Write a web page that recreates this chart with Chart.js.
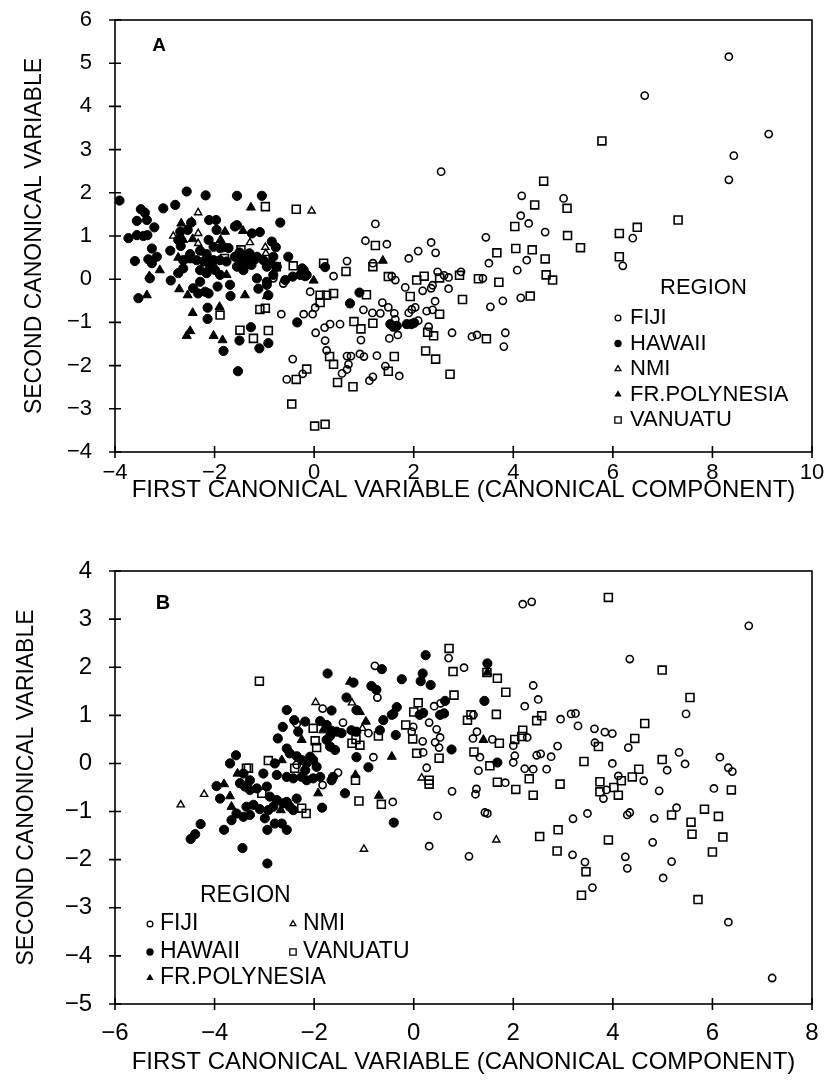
<!DOCTYPE html>
<html>
<head>
<meta charset="utf-8">
<script src="https://cdn.jsdelivr.net/npm/chart.js@4.4.0/dist/chart.umd.min.js"></script>
<style>
  body { margin: 0; background: #fff; width: 829px; height: 1083px; position: relative; overflow: hidden; }
  canvas { position: absolute; left: 0; }
  #chartA { top: 0; }
  #chartB { top: 545px; }
</style>
</head>
<body>
<canvas id="chartA" width="829" height="505"></canvas>
<canvas id="chartB" width="829" height="532"></canvas>
<script>
// ---- tick values ----
const xTicksA = [-4, -2, 0, 2, 4, 6, 8, 10];
const yTicksA = [-4, -3, -2, -1, 0, 1, 2, 3, 4, 5, 6];
const xTicksB = [-6, -4, -2, 0, 2, 4, 6, 8];
const yTicksB = [-5, -4, -3, -2, -1, 0, 1, 2, 3, 4];

const regions = ['FIJI', 'HAWAII', 'NMI', 'FR.POLYNESIA', 'VANUATU'];

// ---- panel A (first vs second canonical variable) ----
const fijiA = [[2.55,2.49],[4.17,1.93],[5.01,1.87],[4.15,1.47],[4.31,1.29],[4.64,1.09],[3.45,0.97],[4.27,0.44],[3.51,0.37],[4.08,0.21],[3.39,0.02],[2.95,0.17],[2.70,0.04],[2.61,0.09],[2.48,0.17],[1.90,0.48],[2.09,0.65],[2.35,0.85],[2.44,0.61],[1.23,1.28],[1.03,0.89],[1.46,0.81],[0.66,0.42],[0.39,0.07],[1.18,0.37],[1.56,0.07],[1.63,-0.02],[1.83,-0.19],[2.18,-0.27],[2.35,-0.21],[2.38,-0.14],[2.70,-0.22],[2.43,-0.51],[2.26,-0.74],[2.38,-0.71],[1.90,-0.78],[1.96,-0.70],[2.03,-0.65],[2.09,-0.96],[2.30,-1.10],[2.77,-1.24],[3.17,-1.33],[3.27,-1.29],[3.84,-1.24],[3.81,-1.56],[1.51,-1.37],[1.68,-1.29],[1.26,-1.77],[1.43,-2.01],[1.71,-2.24],[1.11,-2.35],[1.18,-2.26],[0.94,-1.41],[0.99,-0.71],[1.17,-0.78],[1.33,-0.79],[1.37,-0.54],[1.49,-0.65],[1.61,-0.79],[1.63,-0.93],[0.52,-1.04],[0.32,-1.04],[0.21,-1.12],[0.03,-1.24],[0.22,-1.42],[0.25,-1.65],[0.66,-1.78],[0.74,-1.78],[0.69,-1.97],[0.66,-2.09],[0.56,-2.18],[0.92,-1.73],[1.00,-1.79],[-0.08,-0.29],[0.02,-0.66],[-0.03,-0.81],[-0.21,-0.81],[-0.23,-2.19],[-0.43,-1.85],[-0.55,-2.32],[-0.66,-0.81],[-0.62,-0.10],[-0.82,0.02],[3.54,-0.64],[3.79,-0.50],[4.15,-0.43],[8.33,5.15],[6.64,4.25],[9.13,3.36],[8.43,2.86],[8.33,2.30],[6.40,0.95],[6.20,0.31]];

const hawaiiA = [[-3.91,1.82],[-2.56,2.03],[-2.18,1.94],[-1.55,1.93],[-1.05,1.93],[-3.03,1.64],[-2.79,1.72],[-3.48,1.62],[-3.40,1.54],[-3.56,1.35],[-3.36,1.37],[-3.21,1.20],[-3.73,0.95],[-3.56,1.02],[-3.43,1.00],[-3.35,1.02],[-3.60,0.42],[-3.26,0.71],[-3.33,0.46],[-3.16,0.52],[-3.26,0.37],[-2.89,0.66],[-3.30,0.02],[-3.53,-0.44],[-2.88,-0.03],[-2.73,0.14],[-2.63,0.25],[-2.43,-0.21],[-2.33,-0.33],[-2.19,-0.29],[-2.12,-0.33],[-2.29,-0.06],[-1.94,-0.17],[-1.68,-0.39],[-1.12,-0.22],[-0.95,-0.13],[-0.92,-0.37],[-2.14,-0.66],[-2.14,-0.92],[-0.34,-1.00],[-0.68,1.31],[-1.59,1.22],[-1.25,1.06],[-1.09,1.09],[-0.85,0.87],[-0.77,0.74],[-0.52,0.52],[-0.24,0.25],[-0.15,0.10],[-0.43,0.06],[-1.97,1.37],[-1.96,1.14],[-2.11,1.37],[-2.47,1.31],[-2.54,1.14],[-2.69,1.10],[-2.73,0.91],[-2.68,0.77],[-2.12,0.91],[-2.02,0.75],[-1.82,0.74],[-2.29,0.66],[-2.16,0.58],[-2.09,0.44],[-2.22,0.41],[-2.36,0.44],[-2.49,0.58],[-2.63,0.44],[-1.89,0.72],[-1.72,0.72],[-1.59,0.52],[-1.49,0.44],[-1.35,0.37],[-1.55,0.29],[-1.42,0.21],[-1.29,0.44],[-1.15,0.52],[-1.76,0.41],[-1.89,0.44],[-2.02,0.44],[-2.09,0.29],[-1.99,0.21],[-2.16,0.14],[-2.29,0.21],[-1.89,0.10],[-1.69,-0.13],[-1.02,0.44],[-0.95,0.29],[-0.88,0.37],[-0.82,0.52],[-0.75,0.29],[-1.15,0.02],[-0.95,-0.06],[-0.82,0.10],[-0.58,-0.02],[-0.28,0.10],[-1.55,1.25],[-1.45,0.56],[-1.36,0.50],[-1.26,0.33],[-1.40,0.30],[-1.30,0.60],[-1.50,0.62],[-1.20,0.45],[-1.27,-1.11],[-1.50,-1.42],[-1.10,-1.60],[-0.92,-1.48],[-1.82,-1.66],[-1.53,-2.13],[-0.21,0.21],[-0.18,0.07],[0.22,0.28],[0.91,-0.31],[0.72,-0.56],[1.53,-1.04],[1.59,-1.10],[1.66,-1.08],[1.86,-1.04],[1.95,-1.04],[2.01,-1.01]];

const nmiA = [[-0.05,1.58],[-2.33,1.54],[-1.29,0.85],[-0.98,0.74],[-2.83,1.00],[-2.33,0.83],[-1.99,0.28],[-0.97,0.60],[-2.33,1.06]];

const frPolyA = [[-2.02,-1.31],[-1.84,-1.41],[-2.56,-1.31],[-2.49,-1.20],[-2.44,-0.78],[-1.90,-0.64],[-3.36,-0.37],[-3.10,0.21],[-3.31,0.07],[-2.71,-0.23],[-2.54,-0.37],[-1.39,-0.37],[-0.95,-0.39],[-1.27,1.66],[-1.43,1.12],[-0.01,-0.03],[1.38,0.43],[-1.79,1.10],[-2.67,1.29],[-2.44,0.93],[-1.88,0.91],[-2.73,0.50],[-2.55,0.52],[-2.46,0.44],[-1.76,0.10],[-2.46,1.33],[-2.63,0.91]];

const vanuatuA = [[4.61,2.27],[5.08,1.64],[4.43,1.72],[4.03,1.22],[5.09,1.01],[5.35,0.73],[3.67,0.61],[4.05,0.71],[4.38,0.68],[4.64,0.47],[4.66,0.10],[4.79,-0.02],[3.71,-0.07],[3.30,0.01],[2.92,0.09],[2.52,0.03],[2.21,0.07],[2.06,-0.02],[1.23,0.78],[0.64,0.18],[0.19,0.37],[1.18,0.29],[1.49,0.06],[1.93,-0.40],[2.98,-0.47],[2.52,-0.81],[2.28,-1.23],[2.40,-1.31],[3.46,-1.38],[2.24,-1.66],[2.44,-1.85],[2.73,-2.20],[1.61,-1.79],[1.49,-2.13],[1.18,-1.02],[0.94,-1.15],[0.80,-0.98],[1.05,-0.36],[0.31,-1.79],[0.39,-1.97],[0.47,-2.39],[0.78,-2.49],[0.12,-0.37],[0.25,-0.37],[0.39,-0.33],[0.12,-0.54],[-0.15,-2.08],[0.01,-3.40],[0.22,-3.36],[-0.36,-2.32],[-0.45,-2.89],[-1.09,-0.70],[-0.98,-0.67],[-1.89,-0.83],[-1.49,-1.18],[-1.22,-1.37],[-0.92,-1.19],[-0.98,1.68],[-0.36,1.62],[-0.42,0.31],[-1.47,0.68],[-1.80,0.48],[-0.76,0.29],[5.78,3.20],[7.31,1.37],[6.13,1.06],[6.49,1.20],[6.13,0.52],[4.34,-0.39]];

// ---- panel B ----
const fijiB = [[2.19,3.31],[2.37,3.36],[6.73,2.86],[4.34,2.17],[5.47,1.03],[0.70,2.19],[1.01,1.99],[2.40,1.62],[2.50,1.33],[2.23,1.19],[2.95,0.92],[3.16,1.03],[3.25,1.04],[3.30,0.78],[3.63,0.72],[3.84,0.65],[3.99,0.62],[4.31,0.33],[3.64,0.43],[2.89,0.36],[2.76,0.14],[2.67,-0.12],[2.47,0.17],[2.55,0.20],[3.99,0.00],[4.11,-0.26],[4.62,-0.36],[3.81,-0.73],[3.87,-0.55],[4.93,-0.57],[5.09,-0.14],[5.33,0.23],[5.45,-0.01],[6.15,0.13],[6.32,-0.09],[6.40,-0.17],[6.03,-0.52],[5.28,-0.92],[4.83,-1.14],[4.34,-1.02],[4.29,-1.07],[4.80,-1.64],[5.18,-2.04],[5.01,-2.38],[6.32,-3.30],[7.20,-4.46],[4.25,-1.94],[4.29,-2.18],[3.44,-2.05],[3.59,-2.58],[3.19,-1.90],[3.49,-1.04],[3.20,-1.15],[2.23,-0.11],[2.40,-0.12],[1.84,-0.40],[2.00,0.37],[2.03,0.16],[2.00,0.02],[2.28,0.54],[1.58,0.50],[1.19,0.52],[1.27,0.66],[1.33,0.13],[1.30,-0.15],[1.26,-0.53],[1.24,-0.64],[1.43,-1.02],[1.48,-1.04],[1.11,-1.93],[0.31,-1.72],[0.48,-1.09],[0.77,-0.58],[0.26,-0.09],[0.19,0.23],[0.18,0.46],[0.43,0.44],[0.53,0.54],[0.51,0.33],[0.46,0.71],[-0.01,0.76],[-0.04,0.66],[-0.42,-0.80],[0.31,0.85],[0.41,1.19],[0.54,1.25],[1.20,1.01],[-0.78,2.03],[-0.73,1.37],[-1.83,1.14],[-2.35,0.82],[-1.42,0.85],[-0.91,0.63],[-0.81,0.13],[-2.35,-0.03],[-1.52,-0.19],[-1.83,-0.45]];

const hawaiiB = [[0.24,2.25],[1.48,2.08],[-0.24,1.75],[0.18,1.87],[0.14,1.71],[0.34,1.63],[0.76,0.29],[1.68,0.02],[-0.36,0.59],[-0.40,-1.23],[0.19,1.05],[0.12,1.01],[0.53,1.01],[0.61,1.04],[0.63,1.30],[-0.34,1.17],[-0.41,1.03],[1.42,1.30],[-1.73,1.87],[-1.21,1.68],[-0.64,1.96],[-0.85,1.61],[-0.75,1.53],[-1.35,1.37],[-2.55,1.11],[-1.65,1.10],[-1.15,1.11],[-0.44,1.01],[-0.61,0.90],[-2.63,0.76],[-2.40,0.90],[-2.18,0.87],[-1.88,0.88],[-1.75,0.80],[-1.65,0.68],[-1.55,0.66],[-1.45,0.63],[-2.32,0.66],[-1.25,0.69],[-1.15,0.66],[-0.68,0.69],[-2.73,0.52],[-1.68,0.57],[-1.68,0.35],[-1.58,0.28],[-1.75,0.49],[-1.15,0.13],[-0.91,-0.08],[-2.55,0.31],[-2.49,0.21],[-2.35,0.15],[-2.25,0.07],[-2.15,0.01],[-2.08,0.14],[-2.02,0.07],[-1.95,-0.07],[-2.18,-0.14],[-2.79,0.00],[-3.57,0.17],[-3.69,0.00],[-3.42,-0.21],[-3.02,-0.21],[-2.75,-0.24],[-2.55,-0.28],[-2.42,-0.31],[-2.25,-0.28],[-2.15,-0.35],[-2.02,-0.31],[-1.88,-0.28],[-1.62,-0.28],[-1.65,-0.35],[-1.38,-0.62],[-3.96,-0.47],[-3.89,-0.73],[-3.49,-0.41],[-3.39,-0.48],[-3.29,-0.55],[-3.15,-0.52],[-3.29,-0.35],[-2.95,-0.48],[-2.89,-0.69],[-2.75,-0.76],[-2.82,-0.90],[-2.92,-0.97],[-2.62,-0.83],[-2.55,-0.80],[-2.49,-0.90],[-2.35,-0.73],[-2.42,-0.97],[-1.84,-0.92],[-3.36,-0.90],[-3.22,-0.86],[-3.09,-0.95],[-3.56,-1.04],[-3.42,-1.11],[-3.29,-1.07],[-3.66,-1.18],[-2.99,-1.14],[-2.94,-1.38],[-2.79,-1.25],[-2.65,-1.25],[-2.55,-1.38],[-4.28,-1.26],[-4.39,-1.47],[-4.48,-1.57],[-3.81,-1.38],[-3.44,-1.76],[-2.94,-2.08]];

const nmiB = [[1.66,-1.59],[0.16,-0.30],[-1.97,1.27],[-1.24,1.26],[-1.03,0.73],[-4.21,-0.64],[-4.68,-0.86],[-1.00,-1.78]];

const frPolyB = [[1.48,1.89],[1.40,0.49],[-1.28,1.70],[-1.08,1.07],[-1.82,0.69],[-0.96,0.87],[-2.25,0.49],[-0.44,0.14],[-2.65,0.07],[-3.54,-0.21],[-1.17,-0.24],[-1.92,-0.62],[-3.81,-0.43],[-3.69,-0.68],[-3.66,-0.90],[-0.70,-0.67],[-2.67,-0.97]];

const vanuatuB = [[3.91,3.45],[4.99,1.94],[5.55,1.37],[0.71,2.39],[0.79,1.91],[1.47,1.89],[1.68,1.77],[1.85,1.48],[0.81,1.42],[2.57,0.99],[2.47,0.89],[4.64,0.83],[4.44,0.52],[3.71,0.35],[3.42,0.04],[4.17,-0.36],[3.74,-0.38],[4.39,-0.28],[4.52,-0.12],[3.74,-0.59],[4.02,-0.50],[4.11,-0.66],[4.99,0.08],[6.38,-0.55],[5.84,-0.95],[6.12,-1.10],[5.57,-1.22],[5.59,-1.47],[6.21,-1.53],[6.00,-1.84],[5.18,-1.07],[5.71,-2.83],[3.91,-1.59],[3.46,-2.25],[3.37,-2.74],[2.88,-1.82],[2.90,-1.38],[2.53,-1.52],[2.94,-0.43],[2.40,-0.66],[2.32,-0.32],[2.05,-0.54],[1.68,-0.39],[2.03,0.50],[2.17,0.56],[2.19,0.69],[1.72,0.42],[1.21,0.24],[1.53,-0.05],[0.31,-0.35],[0.31,-0.43],[0.06,0.21],[0.51,0.11],[-0.02,0.51],[-0.16,0.80],[0.09,1.26],[0.00,1.07],[1.08,0.90],[1.15,1.01],[1.66,1.02],[-3.10,1.71],[-2.02,0.73],[-0.71,0.57],[-1.98,0.47],[-1.95,0.33],[-1.24,0.42],[-1.08,0.38],[-1.16,0.50],[-2.92,0.06],[-3.32,-0.10],[-3.36,-0.10],[-2.39,-0.10],[-1.17,-0.35],[-3.05,-0.62],[-2.25,-0.93],[-2.16,-1.04],[-1.10,-0.78],[-0.65,-0.85]];

const FONT = "'Liberation Sans', Arial, Helvetica, sans-serif";
Chart.defaults.font.family = FONT;
Chart.defaults.color = '#000';

const styles = [
  { pointStyle: 'circle',   radius: 3.6, filled: false, bw: 1.6 },
  { pointStyle: 'circle',   radius: 4.6, filled: true,  bw: 1 },
  { pointStyle: 'triangle', radius: 4.2, filled: false, bw: 1.4 },
  { pointStyle: 'triangle', radius: 5.2, filled: true,  bw: 1 },
  { pointStyle: 'rect',     radius: 5.6, filled: false, bw: 1.6 }
];

function toPts(arr) { return arr.map(p => ({ x: p[0], y: p[1] })); }

function makeSets(series) {
  return series.map((arr, i) => {
    const s = styles[i];
    return {
      label: regions[i],
      data: toPts(arr),
      pointStyle: s.pointStyle,
      pointRadius: s.radius,
      pointBorderWidth: s.bw,
      pointBorderColor: '#000',
      pointBackgroundColor: s.filled ? '#000' : 'rgba(0,0,0,0)',
      showLine: false
    };
  });
}

function fmt(v) { return v < 0 ? '\u2212' + Math.abs(v) : String(v); }

function legendMark(ctx, st, x, y, scale) {
  ctx.beginPath();
  const r = st.radius * scale;
  if (st.pointStyle === 'circle') {
    ctx.arc(x, y, r, 0, Math.PI * 2);
  } else if (st.pointStyle === 'triangle') {
    ctx.moveTo(x, y - r);
    ctx.lineTo(x + r * 0.866, y + r * 0.5);
    ctx.lineTo(x - r * 0.866, y + r * 0.5);
    ctx.closePath();
  } else {
    const h = r * Math.SQRT1_2;
    ctx.rect(x - h, y - h, 2 * h, 2 * h);
  }
  if (st.filled) { ctx.fillStyle = '#000'; ctx.fill(); }
  else { ctx.lineWidth = 1.3; ctx.strokeStyle = '#000'; ctx.stroke(); }
}

// frame, crossing tick marks, panel letter and region key
const framePlugin = {
  id: 'frame',
  afterDraw(chart, args, opts) {
    const { ctx, chartArea: a } = chart;
    const xs = chart.scales.x, ys = chart.scales.y;
    ctx.save();
    ctx.strokeStyle = '#000';
    ctx.lineWidth = 1.6;
    ctx.strokeRect(a.left, a.top, a.right - a.left, a.bottom - a.top);
    ctx.beginPath();
    xs.ticks.forEach(t => {
      const px = xs.getPixelForValue(t.value);
      ctx.moveTo(px, a.bottom - 6); ctx.lineTo(px, a.bottom + 6);
    });
    ys.ticks.forEach(t => {
      const py = ys.getPixelForValue(t.value);
      ctx.moveTo(a.left - 6, py); ctx.lineTo(a.left + 6, py);
    });
    ctx.stroke();

    ctx.fillStyle = '#000';
    ctx.textBaseline = 'middle';
    ctx.textAlign = 'center';
    ctx.font = '600 ' + opts.letterSize + 'px ' + FONT;
    ctx.fillText(opts.letter, opts.letterPos[0], opts.letterPos[1]);

    ctx.textAlign = 'left';
    ctx.font = opts.keySize + 'px ' + FONT;
    ctx.fillText('REGION', opts.title[0], opts.title[1]);
    opts.items.forEach(it => {
      legendMark(ctx, styles[it.i], it.mx, it.y, 0.8);
      ctx.fillStyle = '#000';
      ctx.fillText(regions[it.i], it.tx, it.y);
    });
    ctx.restore();
  }
};

function makeChart(id, series, xT, yT, cfg) {
  return new Chart(document.getElementById(id), {
    type: 'scatter',
    data: { datasets: makeSets(series) },
    options: {
      responsive: false,
      animation: false,
      layout: { padding: cfg.padding },
      plugins: { legend: { display: false }, tooltip: { enabled: false }, frame: cfg.frame },
      scales: {
        x: {
          type: 'linear', min: xT[0], max: xT[xT.length - 1],
          afterBuildTicks: s => { s.ticks = xT.map(v => ({ value: v })); },
          afterFit: s => { s.height = cfg.xHeight; s.paddingLeft = 0; s.paddingRight = 0; },
          grid: { display: false },
          border: { display: false },
          ticks: { font: { size: cfg.tickSize }, padding: cfg.xTickPad, callback: fmt, maxRotation: 0 },
          title: { display: true, text: 'FIRST CANONICAL VARIABLE (CANONICAL COMPONENT)', font: { size: 24 }, padding: 0 }
        },
        y: {
          type: 'linear', min: yT[0], max: yT[yT.length - 1],
          afterBuildTicks: s => { s.ticks = yT.map(v => ({ value: v })); },
          afterFit: s => { s.width = cfg.yWidth; s.paddingTop = 0; s.paddingBottom = 0; },
          grid: { display: false },
          border: { display: false },
          ticks: { font: { size: cfg.tickSize }, padding: 15, callback: fmt },
          title: { display: true, text: 'SECOND CANONICAL VARIABLE', font: { size: 23 }, padding: 0 }
        }
      }
    },
    plugins: [framePlugin]
  });
}

makeChart('chartA', [fijiA, hawaiiA, nmiA, frPolyA, vanuatuA], xTicksA, yTicksA, {
  padding: { left: 21, top: 20, right: 17, bottom: 0 },
  yWidth: 94, xHeight: 53, tickSize: 22, xTickPad: 0,
  frame: {
    letter: 'A', letterSize: 19, letterPos: [159, 46],
    keySize: 22, title: [660, 288],
    items: [0, 1, 2, 3, 4].map(i => ({ i: i, mx: 618, tx: 630, y: 318 + 25.5 * i }))
  }
});

makeChart('chartB', [fijiB, hawaiiB, nmiB, frPolyB, vanuatuB], xTicksB, yTicksB, {
  padding: { left: 13, top: 26, right: 17, bottom: 0 },
  yWidth: 102, xHeight: 73, tickSize: 24, xTickPad: 7,
  frame: {
    letter: 'B', letterSize: 20, letterPos: [163, 58],
    keySize: 23, title: [200, 351],
    items: [
      { i: 0, mx: 150, tx: 160, y: 379 },
      { i: 1, mx: 150, tx: 160, y: 407 },
      { i: 3, mx: 150, tx: 160, y: 433 },
      { i: 2, mx: 293, tx: 303, y: 379 },
      { i: 4, mx: 293, tx: 303, y: 407 }
    ]
  }
});
</script>
</body>
</html>
